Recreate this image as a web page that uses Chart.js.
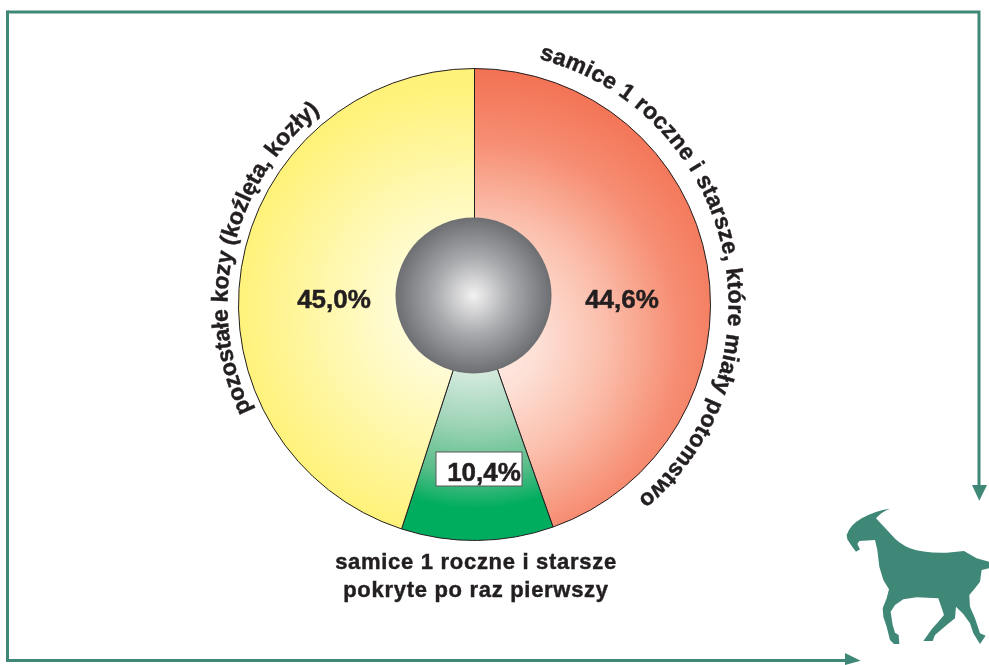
<!DOCTYPE html>
<html lang="pl"><head><meta charset="utf-8">
<style>
html,body{margin:0;padding:0;background:#fff;overflow:hidden}
#wrap{position:relative;width:989px;height:665px}
canvas{position:absolute;left:0;top:0}
svg{position:absolute;left:0;top:0;pointer-events:none}
svg text{font-family:"Liberation Sans",Arial,sans-serif;font-weight:700;fill:#231f20;stroke:#231f20;stroke-width:.45}
</style>
<script src="https://cdn.jsdelivr.net/npm/chart.js@4"></script>
</head><body>
<div id="wrap">
<canvas id="c" width="989" height="665"></canvas>
<svg id="o" width="989" height="665" viewBox="0 0 989 665" xmlns="http://www.w3.org/2000/svg">
<defs>
<path id="arcR" fill="none"/>
<path id="arcL" fill="none"/>
</defs>
<g fill="none" stroke="#3f8776" stroke-width="3">
<path d="M7.5 12 H979 V488"/>
<path d="M7.5 10.5 V660.5 H848"/>
</g>
<g fill="#3f8776">
<path d="M972 485 H987 L979.3 500.7 Z"/>
<path d="M845 653 L860.7 660.7 L845 665 Z"/>
<path transform="translate(820 470) scale(.3333)" d="M210 116 Q165 122 125 145 Q90 165 80 195 L82 208 L95 228 L108 245 L120 238 L112 222 L118 213 L165 210 L172 240 L178 290 L190 330 L207 358 L200 385 L188 415 L190 440 L200 470 L210 510 L222 522 L238 522 L236 495 L225 488 L218 465 L212 425 L225 405 L250 388 L290 382 L355 385 L362 405 L372 435 L355 455 L335 478 L310 513 L338 513 L345 495 L380 465 L405 445 L408 410 L430 432 L450 460 L460 490 L480 522 L497 497 L480 490 L465 445 L450 410 L448 375 L465 355 L480 335 L485 300 L507 295 L507 275 L470 265 L432 243 L380 248 Q310 250 270 235 Q235 220 215 195 L168 145 Q185 125 210 116 Z"/>
</g>
<text font-size="23" id="tR"><textPath href="#arcR" id="tpR"></textPath></text>
<text font-size="23" id="tL"><textPath href="#arcL" id="tpL"></textPath></text>
<text font-size="22" letter-spacing=".7" x="476" y="569" text-anchor="middle" id="b1"></text>
<text font-size="22" letter-spacing=".7" x="476" y="597" text-anchor="middle" id="b2"></text>
</svg>
</div>
<script>
const categories = ["samice 1 roczne i starsze, które miały potomstwo", "samice 1 roczne i starsze pokryte po raz pierwszy", "pozostałe kozy (koźlęta, kozły)"];
const bottomLines = ["samice 1 roczne i starsze", "pokryte po raz pierwszy"];
const shares = [44.6, 10.4, 45.0];
const shareLabels = ["44,6%", "10,4%", "45,0%"];

function arc(r, a0, a1){
  const p = a => [474.5 + r*Math.sin(a*Math.PI/180), 304.5 - r*Math.cos(a*Math.PI/180)];
  const s = p(a0), e = p(a1);
  return `M ${s[0]} ${s[1]} A ${r} ${r} 0 ${a1-a0>180?1:0} 1 ${e[0]} ${e[1]}`;
}
document.getElementById('arcR').setAttribute('d', arc(254, 14.7, 170));
document.getElementById('arcL').setAttribute('d', arc(247, 244.5, 340));
function fit(id, tid, text, len){
  const tp = document.getElementById(tid);
  tp.textContent = text;
  const t = document.getElementById(id);
  const w = t.getComputedTextLength();
  t.setAttribute('letter-spacing', ((len - w) / text.length).toFixed(3));
}
fit('tR','tpR',categories[0],555);
fit('tL','tpL',categories[2],331);
document.getElementById('b1').textContent = bottomLines[0];
document.getElementById('b2').textContent = bottomLines[1];

function sliceFill(ctx){
  const defs = [
    {s:[[0,'#fff0ea'],[0.21,'#fde0d6'],[0.46,'#fbbfac'],[0.74,'#f68d72'],[1,'#f37254']], c:[480,340,270]},
    {s:[[0,'#ffffff'],[0.32,'#d5eade'],[0.57,'#a0d5b8'],[0.81,'#5bbd8a'],[0.98,'#00ad5f'],[1,'#00ad5f']], c:[475,305,208]},
    {s:[[0,'#ffffff'],[0.2,'#fffde0'],[1,'#fff27a']], c:[462,310,225]}
  ];
  const d = defs[ctx.dataIndex];
  if(!d) return '#ccc';
  const g = ctx.chart.ctx.createRadialGradient(d.c[0],d.c[1],0,d.c[0],d.c[1],d.c[2]);
  d.s.forEach(s => g.addColorStop(s[0], s[1]));
  return g;
}
const extras = {
  id:'extras',
  afterDatasetsDraw(chart){
    const c = chart.ctx;
    const g = c.createRadialGradient(473.5,295.5,0,473.5,295.5,78);
    g.addColorStop(0,'#f2f2f2'); g.addColorStop(.5,'#a8a9ac'); g.addColorStop(1,'#6d6e71');
    c.save();
    c.fillStyle = g; c.beginPath(); c.arc(473.5,295.5,78,0,Math.PI*2); c.fill();
    c.fillStyle='#fff'; c.strokeStyle='#58595b'; c.lineWidth=1;
    c.fillRect(436,452,86,34); c.strokeRect(436,452,86,34);
    c.fillStyle='#231f20'; c.strokeStyle='#231f20'; c.lineWidth=.5;
    c.font='bold 26px "Liberation Sans", Arial, sans-serif';
    c.textBaseline='alphabetic'; c.textAlign='center';
    [[0,622,307.5],[2,334,307.5],[1,484,481]].forEach(l => {
      c.fillText(shareLabels[l[0]], l[1], l[2]);
      c.strokeText(shareLabels[l[0]], l[1], l[2]);
    });
    c.restore();
  }
};
new Chart(document.getElementById('c'), {
  type:'pie',
  data:{labels:categories, datasets:[{data:shares, backgroundColor:sliceFill, borderColor:'#231f20', borderWidth:1}]},
  options:{
    responsive:false, animation:false, rotation:0,
    layout:{padding:{left:238,right:278,top:68,bottom:124}},
    plugins:{legend:{display:false},tooltip:{enabled:false},title:{display:false}}
  },
  plugins:[extras]
});
</script>
</body></html>
